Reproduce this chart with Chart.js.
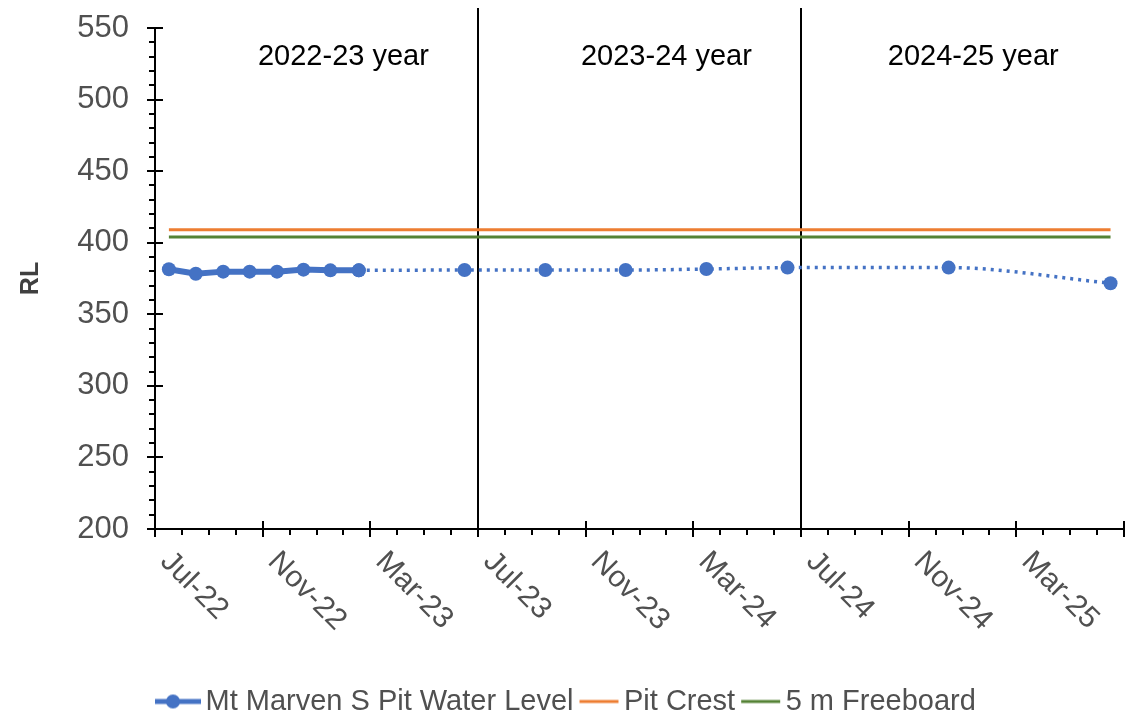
<!DOCTYPE html>
<html>
<head>
<meta charset="utf-8">
<script src="https://cdn.jsdelivr.net/npm/chart.js@4.4.0/dist/chart.umd.min.js"></script>
<style>
    html, body { margin: 0; padding: 0; background: #fff; }
</style>
</head>
<body>
<canvas id="water_chart" width="1131" height="722"></canvas>
<script>
// monthly readings, then the later quarterly readings (dotted)
const measuredDates = ['2022-07-17', '2022-08-17', '2022-09-17', '2022-10-17', '2022-11-17', '2022-12-17', '2023-01-17', '2023-02-17']
const measuredLevels = [381.5, 378.3, 379.8, 379.8, 379.8, 381.2, 380.7, 380.7]
const laterDates = ['2023-02-17', '2023-06-16', '2023-09-16', '2023-12-16', '2024-03-16', '2024-06-16', '2024-12-16', '2025-06-16']
const laterLevels = [380.7, 380.9, 380.9, 380.9, 381.6, 382.6, 382.6, 371.7]

const crestDates = ['2022-07-17', '2025-06-16']
const crestLevels = [409, 409]
const freeboardLevels = [404, 404]

const xTickLabels = ['Jul-22', 'Nov-22', 'Mar-23', 'Jul-23', 'Nov-23', 'Mar-24', 'Jul-24', 'Nov-24', 'Mar-25']
const xTickMonths = [0, 4, 8, 12, 16, 20, 24, 28, 32]
const yearLabels = ['2022-23 year', '2023-24 year', '2024-25 year']
const yearLabelMonths = [7, 19, 30.4]
const yearBoundaryMonths = [12, 24]

const FONT = '"Liberation Sans", Arial, sans-serif'
const BLUE = '#4472C4'

// months since 1 Jul 2022
function toMonth(s) {
    let p = s.split('-').map(Number)
    let days = new Date(p[0], p[1], 0).getDate()
    return (p[0] - 2022) * 12 + (p[1] - 7) + (p[2] - 1) / days
}
function toPoints(dates, values) {
    return dates.map((d, i) => ({ x: toMonth(d), y: values[i] }))
}

// legend symbols: 56px canvas centred on the 36px legend box
function legendIcon(color, marker) {
    let c = document.createElement('canvas')
    c.width = 56
    c.height = 16
    let g = c.getContext('2d')
    g.strokeStyle = color
    g.lineWidth = marker ? 5 : 3
    g.beginPath()
    if (marker) {
        g.moveTo(0, 8)
        g.lineTo(56, 8)
    } else {
        g.moveTo(16, 8)
        g.lineTo(55, 8)
    }
    g.stroke()
    if (marker) {
        g.fillStyle = color
        g.beginPath()
        g.arc(28, 8, 7, 0, Math.PI * 2)
        g.fill()
    }
    return c
}
const icons = [legendIcon(BLUE, true), legendIcon('#ED7D31', false), legendIcon('#548235', false)]

const decor = {
    id: 'decor',
    beforeDatasetsDraw(chart) {
        let ctx = chart.ctx
        let xs = chart.scales.x
        let a = chart.chartArea
        ctx.save()
        ctx.strokeStyle = '#000'
        ctx.lineWidth = 2
        yearBoundaryMonths.forEach(m => {
            let px = Math.round(xs.getPixelForValue(m))
            ctx.beginPath()
            ctx.moveTo(px, a.top - 20)
            ctx.lineTo(px, a.bottom)
            ctx.stroke()
        })
        ctx.fillStyle = '#000'
        ctx.font = '29px ' + FONT
        ctx.textAlign = 'center'
        ctx.textBaseline = 'middle'
        yearLabels.forEach((t, i) => {
            ctx.fillText(t, xs.getPixelForValue(yearLabelMonths[i]), a.top + 29)
        })
        ctx.restore()
    },
    afterDraw(chart) {
        let ctx = chart.ctx
        let xs = chart.scales.x
        let ys = chart.scales.y
        let a = chart.chartArea
        ctx.save()
        ctx.strokeStyle = '#000'
        ctx.lineWidth = 2
        for (let v = 200; v <= 550; v += 10) {
            let py = Math.round(ys.getPixelForValue(v))
            ctx.beginPath()
            if (v % 50 == 0) {
                ctx.moveTo(a.left - 8, py)
                ctx.lineTo(a.left + 8, py)
            } else {
                ctx.moveTo(a.left - 6, py)
                ctx.lineTo(a.left, py)
            }
            ctx.stroke()
        }
        for (let m = 0; m <= 36; m++) {
            let px = Math.round(xs.getPixelForValue(m))
            ctx.beginPath()
            if (m % 4 == 0) {
                ctx.moveTo(px, a.bottom - 8)
                ctx.lineTo(px, a.bottom + 8)
            } else {
                ctx.moveTo(px, a.bottom)
                ctx.lineTo(px, a.bottom + 6)
            }
            ctx.stroke()
        }
        ctx.fillStyle = '#505050'
        ctx.font = '30px ' + FONT
        ctx.textAlign = 'left'
        ctx.textBaseline = 'middle'
        xTickLabels.forEach((t, i) => {
            let px = xs.getPixelForValue(xTickMonths[i])
            ctx.save()
            ctx.translate(px + 10, a.bottom + 28)
            ctx.rotate(Math.PI / 4)
            ctx.fillText(t, 0, 0)
            ctx.restore()
        })
        ctx.restore()
    }
}

let ctx = document.getElementById('water_chart')
let waterChart = new Chart(ctx, {
    type: 'line',
    plugins: [decor],
    data: {
        datasets: [{
                label: 'Mt Marven S Pit Water Level',
                data: toPoints(measuredDates, measuredLevels),
                borderColor: BLUE,
                backgroundColor: BLUE,
                borderWidth: 6,
                pointRadius: 7,
                pointBorderWidth: 0,
                order: 1
            },
            {
                label: 'later',
                data: toPoints(laterDates, laterLevels),
                borderColor: BLUE,
                backgroundColor: BLUE,
                borderWidth: 3.5,
                borderDash: [3, 5],
                pointRadius: 7,
                pointBorderWidth: 0,
                cubicInterpolationMode: 'monotone',
                order: 2
            },
            {
                label: 'Pit Crest',
                data: toPoints(crestDates, crestLevels),
                borderColor: '#ED7D31',
                borderWidth: 3,
                pointRadius: 0,
                order: 3
            },
            {
                label: '5 m Freeboard',
                data: toPoints(crestDates, freeboardLevels),
                borderColor: '#548235',
                borderWidth: 3,
                pointRadius: 0,
                order: 4
            }
        ]
    },
    options: {
        responsive: false,
        animation: false,
        devicePixelRatio: 1,
        layout: {
            padding: { top: 28, right: 4, left: 0, bottom: -4 }
        },
        scales: {
            x: {
                type: 'linear',
                min: 0,
                max: 36,
                ticks: { display: false },
                grid: { display: false, drawTicks: false },
                border: { display: true, color: '#000', width: 2 },
                afterFit: function (scale) {
                    scale.height = 158
                    scale.paddingLeft = 0
                    scale.paddingRight = 0
                }
            },
            y: {
                min: 200,
                max: 550,
                ticks: {
                    stepSize: 50,
                    padding: 26,
                    color: '#505050',
                    font: { family: FONT, size: 31 }
                },
                grid: { display: false, drawTicks: false },
                border: { display: true, color: '#000', width: 2 },
                title: {
                    display: true,
                    text: 'RL',
                    color: '#404040',
                    padding: { top: 16, bottom: 0 },
                    font: { family: FONT, size: 25, weight: 'bold' }
                },
                afterFit: function (scale) {
                    scale.width = 155
                    scale.paddingTop = 0
                    scale.paddingBottom = 0
                }
            }
        },
        plugins: {
            tooltip: { enabled: false },
            legend: {
                position: 'bottom',
                fullSize: false,
                align: 'start',
                labels: {
                    usePointStyle: true,
                    pointStyleWidth: 36,
                    padding: 0,
                    color: '#505050',
                    font: { family: FONT, size: 29 },
                    generateLabels: function (chart) {
                        let items = Chart.defaults.plugins.legend.labels.generateLabels(chart)
                        items = items.filter(it => it.text != 'later')
                        items.forEach((it, i) => { it.pointStyle = icons[i] })
                        return items
                    }
                }
            }
        }
    }
})
</script>
</body>
</html>
